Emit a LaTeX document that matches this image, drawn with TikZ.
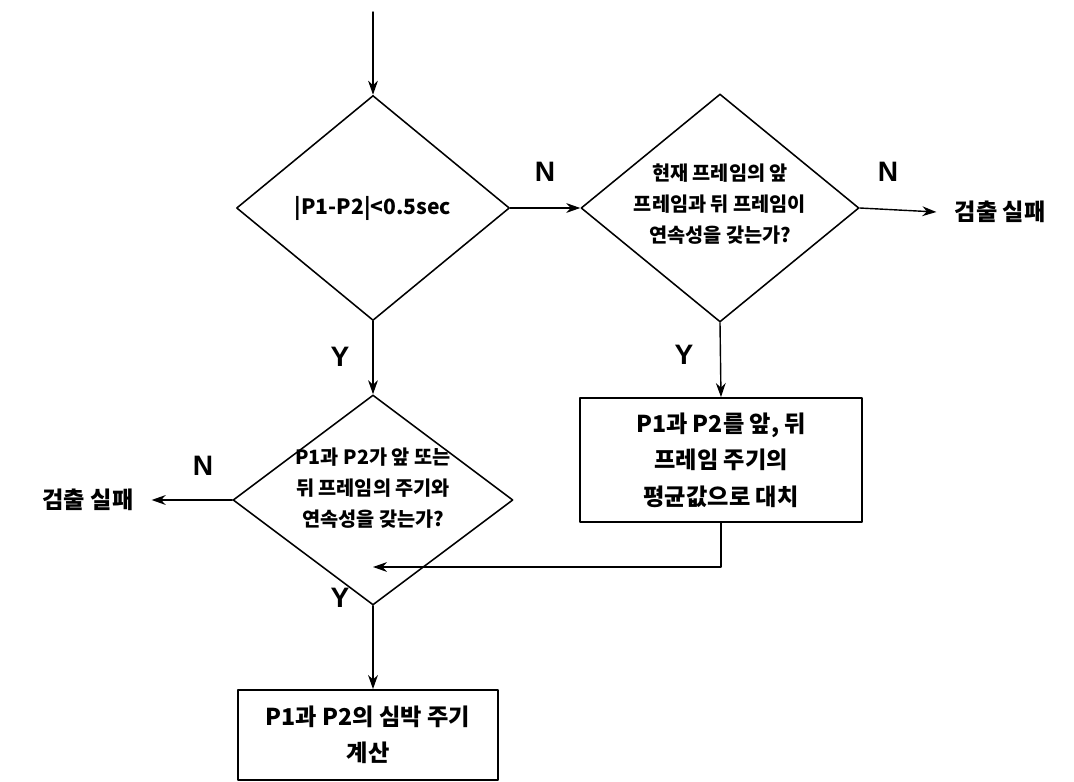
\documentclass[tikz,border=0pt]{standalone}
\usepackage{fontspec}
\newfontfamily\kr{Noto Sans CJK KR}
\newfontfamily\lab{Liberation Sans}
\usetikzlibrary{arrows.meta,shapes.geometric}

\begin{document}
\begin{tikzpicture}[>={Stealth[length=10pt,width=7pt]}, line cap=round, line join=round,
  x=0.025cm, y=-0.025cm,
  dia/.style={draw, diamond, line width=1.1pt, inner sep=0pt},
  txt/.style={font=\kr\bfseries\fontsize{14}{22}\selectfont, align=center, inner sep=0pt},
  boxtxt/.style={font=\kr\bfseries\fontsize{16.5}{26}\selectfont, align=center},
  pbox/.style={draw, rectangle, line width=1.3pt, inner sep=0pt},
  yn/.style={font=\lab\bfseries\fontsize{20}{20}\selectfont, inner sep=0pt},
  flow/.style={->, line width=1pt}]

% ----------------------------
% PARAMETERS
% ----------------------------
\def\u{0.025cm}   % one pixel of the reference

\useasboundingbox (0,0) rectangle (1074,782);

% ----------------------------
% DECISIONS
% ----------------------------
\coordinate (start) at (373,12);

\node[dia, minimum width=273*\u, minimum height=225*\u] (d1) at (373,208) {};
\node[txt, font=\kr\bfseries\fontsize{15}{22}\selectfont] (d1t) at (d1) {|P1-P2|<0.5sec};

\node[dia, minimum width=278*\u, minimum height=228*\u] (d2) at (720,208) {};
\node[txt] (d2t) at (720,204) {현재 프레임의 앞\\프레임과 뒤 프레임이\\연속성을 갖는가?};

\node[dia, minimum width=280*\u, minimum height=210*\u] (d3) at (373,500) {};
\node[txt] (d3t) at (373,488) {P1과 P2가 앞 또는\\뒤 프레임의 주기와\\연속성을 갖는가?};

% ----------------------------
% PROCESS BOXES
% ----------------------------
\node[pbox, minimum width=282*\u, minimum height=124*\u] (b1) at (721,460) {};
\node[boxtxt] (b1t) at (b1) {P1과 P2를 앞, 뒤\\프레임 주기의\\평균값으로 대치};

\node[pbox, minimum width=260*\u, minimum height=90*\u] (b2) at (368,735) {};
\node[boxtxt] (b2t) at (b2) {P1과 P2의 심박 주기\\계산};

% ----------------------------
% FAILURE ENDS
% ----------------------------
\node[boxtxt, inner sep=0pt] (f1) at (1000,212) {검출 실패};
\node[boxtxt, inner sep=0pt] (f2) at (88,500) {검출 실패};

% ----------------------------
% CONNECTORS
% ----------------------------
\coordinate (join) at (373,567);

\draw[flow] (start) -- (d1.north);
\draw[flow] (d1.east) -- (d2.west);
\draw[flow] (d2.east) -- ([xshift=-18*\u]f1.west);
\draw[flow] (d1.south) -- (d3.north);
\draw[flow] (d2.south) -- (b1.north);
\draw[flow] (d3.west) -- ([xshift=18*\u]f2.east);
\draw[flow] (d3.south) -- (d3.south |- b2.north);
\draw[flow] (b1.south) |- (join);

% ----------------------------
% LABELS
% ----------------------------
\node[yn] (n1) at (545,172) {N};
\node[yn] (n2) at (888,172) {N};
\node[yn] (n3) at (203,466) {N};
\node[yn] (y1) at (340,357) {Y};
\node[yn] (y2) at (684,355) {Y};
\node[yn] (y3) at (340,598) {Y};

\end{tikzpicture}
\end{document}
